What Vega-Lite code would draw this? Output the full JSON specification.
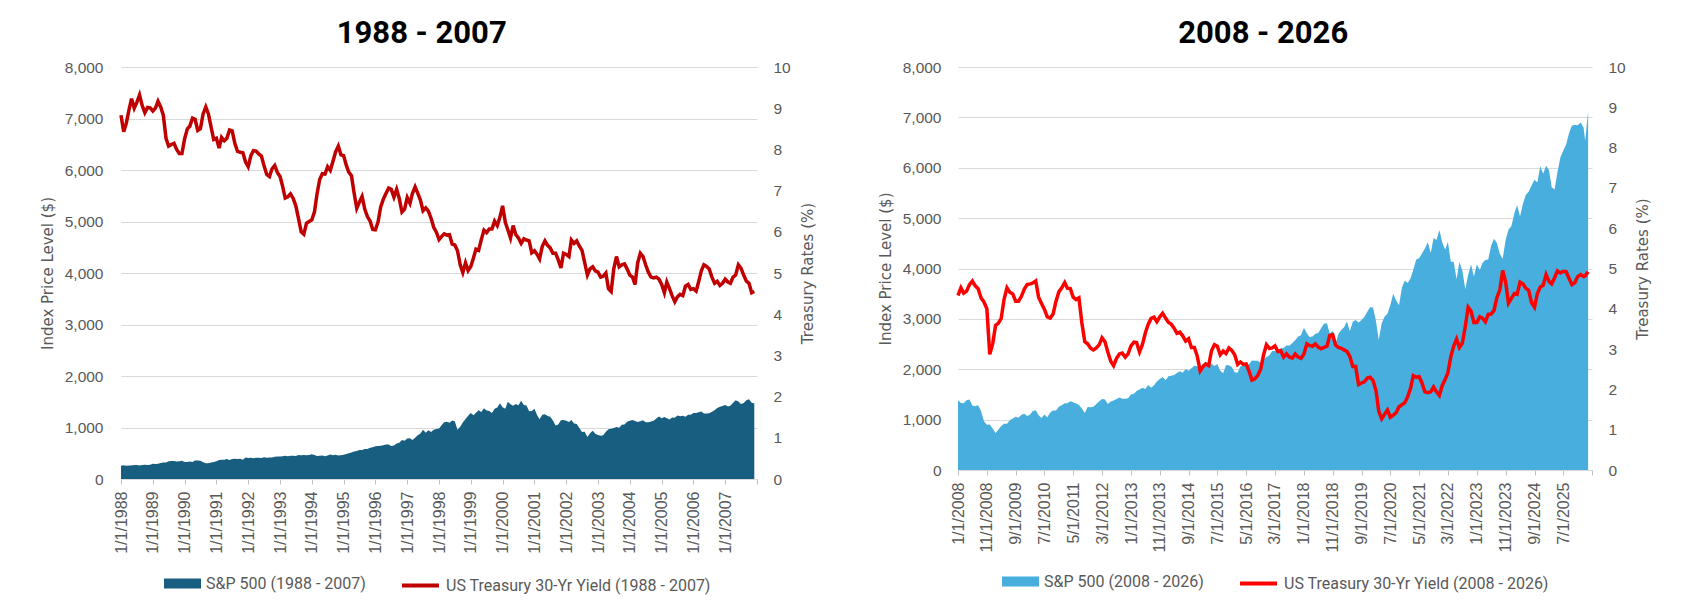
{
"$schema": "https://vega.github.io/schema/vega-lite/v6.json",
"background": "white",
"padding": {"left": 40, "top": 18, "right": 5, "bottom": 5},
"spacing": 62,
"datasets": {
"a": [
{"d":"1988-01-01","s":257,"y":8.83},{"d":"1988-02-01","s":268,"y":8.43},{"d":"1988-03-01","s":259,"y":8.63},{"d":"1988-04-01","s":261,"y":8.95},{"d":"1988-05-01","s":262,"y":9.23},{"d":"1988-06-01","s":274,"y":9.0},{"d":"1988-07-01","s":272,"y":9.14},{"d":"1988-08-01","s":262,"y":9.32},{"d":"1988-09-01","s":272,"y":9.06},{"d":"1988-10-01","s":279,"y":8.89},{"d":"1988-11-01","s":274,"y":9.02},{"d":"1988-12-01","s":278,"y":9.01},
{"d":"1989-01-01","s":297,"y":8.93},{"d":"1989-02-01","s":289,"y":9.01},{"d":"1989-03-01","s":295,"y":9.17},{"d":"1989-04-01","s":310,"y":9.03},{"d":"1989-05-01","s":321,"y":8.83},{"d":"1989-06-01","s":318,"y":8.27},{"d":"1989-07-01","s":346,"y":8.08},{"d":"1989-08-01","s":351,"y":8.12},{"d":"1989-09-01","s":349,"y":8.15},{"d":"1989-10-01","s":340,"y":8.0},{"d":"1989-11-01","s":346,"y":7.9},{"d":"1989-12-01","s":353,"y":7.9},
{"d":"1990-01-01","s":329,"y":8.26},{"d":"1990-02-01","s":332,"y":8.5},{"d":"1990-03-01","s":340,"y":8.56},{"d":"1990-04-01","s":331,"y":8.76},{"d":"1990-05-01","s":361,"y":8.73},{"d":"1990-06-01","s":358,"y":8.46},{"d":"1990-07-01","s":356,"y":8.5},{"d":"1990-08-01","s":323,"y":8.86},{"d":"1990-09-01","s":306,"y":9.03},{"d":"1990-10-01","s":304,"y":8.86},{"d":"1990-11-01","s":322,"y":8.54},{"d":"1990-12-01","s":330,"y":8.24},
{"d":"1991-01-01","s":344,"y":8.27},{"d":"1991-02-01","s":367,"y":8.03},{"d":"1991-03-01","s":375,"y":8.29},{"d":"1991-04-01","s":375,"y":8.21},{"d":"1991-05-01","s":390,"y":8.27},{"d":"1991-06-01","s":371,"y":8.47},{"d":"1991-07-01","s":388,"y":8.45},{"d":"1991-08-01","s":395,"y":8.14},{"d":"1991-09-01","s":388,"y":7.95},{"d":"1991-10-01","s":392,"y":7.93},{"d":"1991-11-01","s":375,"y":7.92},{"d":"1991-12-01","s":417,"y":7.7},
{"d":"1992-01-01","s":409,"y":7.58},{"d":"1992-02-01","s":413,"y":7.85},{"d":"1992-03-01","s":404,"y":7.97},{"d":"1992-04-01","s":415,"y":7.96},{"d":"1992-05-01","s":415,"y":7.89},{"d":"1992-06-01","s":408,"y":7.84},{"d":"1992-07-01","s":424,"y":7.6},{"d":"1992-08-01","s":414,"y":7.39},{"d":"1992-09-01","s":418,"y":7.34},{"d":"1992-10-01","s":419,"y":7.53},{"d":"1992-11-01","s":431,"y":7.61},{"d":"1992-12-01","s":436,"y":7.44},
{"d":"1993-01-01","s":439,"y":7.34},{"d":"1993-02-01","s":443,"y":7.09},{"d":"1993-03-01","s":452,"y":6.82},{"d":"1993-04-01","s":440,"y":6.85},{"d":"1993-05-01","s":450,"y":6.92},{"d":"1993-06-01","s":451,"y":6.81},{"d":"1993-07-01","s":448,"y":6.63},{"d":"1993-08-01","s":464,"y":6.32},{"d":"1993-09-01","s":459,"y":6.0},{"d":"1993-10-01","s":468,"y":5.94},{"d":"1993-11-01","s":462,"y":6.21},{"d":"1993-12-01","s":466,"y":6.25},
{"d":"1994-01-01","s":482,"y":6.29},{"d":"1994-02-01","s":467,"y":6.49},{"d":"1994-03-01","s":446,"y":6.91},{"d":"1994-04-01","s":451,"y":7.27},{"d":"1994-05-01","s":457,"y":7.41},{"d":"1994-06-01","s":444,"y":7.4},{"d":"1994-07-01","s":458,"y":7.58},{"d":"1994-08-01","s":475,"y":7.49},{"d":"1994-09-01","s":463,"y":7.71},{"d":"1994-10-01","s":472,"y":7.94},{"d":"1994-11-01","s":454,"y":8.08},{"d":"1994-12-01","s":459,"y":7.87},
{"d":"1995-01-01","s":470,"y":7.85},{"d":"1995-02-01","s":487,"y":7.61},{"d":"1995-03-01","s":501,"y":7.45},{"d":"1995-04-01","s":515,"y":7.36},{"d":"1995-05-01","s":533,"y":6.95},{"d":"1995-06-01","s":544,"y":6.57},{"d":"1995-07-01","s":562,"y":6.72},{"d":"1995-08-01","s":562,"y":6.86},{"d":"1995-09-01","s":584,"y":6.55},{"d":"1995-10-01","s":582,"y":6.37},{"d":"1995-11-01","s":605,"y":6.26},{"d":"1995-12-01","s":616,"y":6.06},
{"d":"1996-01-01","s":636,"y":6.05},{"d":"1996-02-01","s":640,"y":6.24},{"d":"1996-03-01","s":646,"y":6.6},{"d":"1996-04-01","s":654,"y":6.79},{"d":"1996-05-01","s":669,"y":6.93},{"d":"1996-06-01","s":671,"y":7.06},{"d":"1996-07-01","s":640,"y":7.03},{"d":"1996-08-01","s":652,"y":6.84},{"d":"1996-09-01","s":687,"y":7.03},{"d":"1996-10-01","s":705,"y":6.81},{"d":"1996-11-01","s":757,"y":6.48},{"d":"1996-12-01","s":741,"y":6.55},
{"d":"1997-01-01","s":786,"y":6.83},{"d":"1997-02-01","s":791,"y":6.69},{"d":"1997-03-01","s":757,"y":6.93},{"d":"1997-04-01","s":801,"y":7.09},{"d":"1997-05-01","s":848,"y":6.94},{"d":"1997-06-01","s":885,"y":6.77},{"d":"1997-07-01","s":954,"y":6.51},{"d":"1997-08-01","s":899,"y":6.58},{"d":"1997-09-01","s":947,"y":6.5},{"d":"1997-10-01","s":915,"y":6.33},{"d":"1997-11-01","s":955,"y":6.11},{"d":"1997-12-01","s":970,"y":5.99},
{"d":"1998-01-01","s":980,"y":5.81},{"d":"1998-02-01","s":1049,"y":5.89},{"d":"1998-03-01","s":1102,"y":5.95},{"d":"1998-04-01","s":1112,"y":5.92},{"d":"1998-05-01","s":1091,"y":5.93},{"d":"1998-06-01","s":1134,"y":5.7},{"d":"1998-07-01","s":1121,"y":5.68},{"d":"1998-08-01","s":957,"y":5.54},{"d":"1998-09-01","s":1017,"y":5.2},{"d":"1998-10-01","s":1099,"y":5.01},{"d":"1998-11-01","s":1164,"y":5.25},{"d":"1998-12-01","s":1229,"y":5.06},
{"d":"1999-01-01","s":1280,"y":5.16},{"d":"1999-02-01","s":1238,"y":5.37},{"d":"1999-03-01","s":1286,"y":5.58},{"d":"1999-04-01","s":1335,"y":5.55},{"d":"1999-05-01","s":1302,"y":5.81},{"d":"1999-06-01","s":1373,"y":6.04},{"d":"1999-07-01","s":1329,"y":5.98},{"d":"1999-08-01","s":1320,"y":6.07},{"d":"1999-09-01","s":1283,"y":6.07},{"d":"1999-10-01","s":1363,"y":6.26},{"d":"1999-11-01","s":1389,"y":6.15},{"d":"1999-12-01","s":1469,"y":6.35},
{"d":"2000-01-01","s":1394,"y":6.63},{"d":"2000-02-01","s":1366,"y":6.23},{"d":"2000-03-01","s":1499,"y":6.05},{"d":"2000-04-01","s":1452,"y":5.85},{"d":"2000-05-01","s":1421,"y":6.15},{"d":"2000-06-01","s":1455,"y":5.93},{"d":"2000-07-01","s":1431,"y":5.85},{"d":"2000-08-01","s":1518,"y":5.72},{"d":"2000-09-01","s":1437,"y":5.83},{"d":"2000-10-01","s":1429,"y":5.8},{"d":"2000-11-01","s":1315,"y":5.78},{"d":"2000-12-01","s":1320,"y":5.49},
{"d":"2001-01-01","s":1366,"y":5.54},{"d":"2001-02-01","s":1240,"y":5.45},{"d":"2001-03-01","s":1160,"y":5.34},{"d":"2001-04-01","s":1249,"y":5.65},{"d":"2001-05-01","s":1256,"y":5.78},{"d":"2001-06-01","s":1224,"y":5.67},{"d":"2001-07-01","s":1211,"y":5.61},{"d":"2001-08-01","s":1134,"y":5.48},{"d":"2001-09-01","s":1041,"y":5.48},{"d":"2001-10-01","s":1060,"y":5.32},{"d":"2001-11-01","s":1139,"y":5.12},{"d":"2001-12-01","s":1148,"y":5.48},
{"d":"2002-01-01","s":1130,"y":5.45},{"d":"2002-02-01","s":1107,"y":5.4},{"d":"2002-03-01","s":1147,"y":5.8},{"d":"2002-04-01","s":1077,"y":5.72},{"d":"2002-05-01","s":1067,"y":5.78},{"d":"2002-06-01","s":990,"y":5.65},{"d":"2002-07-01","s":912,"y":5.55},{"d":"2002-08-01","s":916,"y":5.25},{"d":"2002-09-01","s":815,"y":4.95},{"d":"2002-10-01","s":886,"y":5.1},{"d":"2002-11-01","s":936,"y":5.15},{"d":"2002-12-01","s":880,"y":5.05},
{"d":"2003-01-01","s":856,"y":5.02},{"d":"2003-02-01","s":841,"y":4.9},{"d":"2003-03-01","s":848,"y":4.92},{"d":"2003-04-01","s":917,"y":5.0},{"d":"2003-05-01","s":964,"y":4.62},{"d":"2003-06-01","s":975,"y":4.55},{"d":"2003-07-01","s":990,"y":5.1},{"d":"2003-08-01","s":1008,"y":5.4},{"d":"2003-09-01","s":996,"y":5.15},{"d":"2003-10-01","s":1051,"y":5.2},{"d":"2003-11-01","s":1058,"y":5.22},{"d":"2003-12-01","s":1112,"y":5.1},
{"d":"2004-01-01","s":1131,"y":4.95},{"d":"2004-02-01","s":1145,"y":4.9},{"d":"2004-03-01","s":1126,"y":4.72},{"d":"2004-04-01","s":1107,"y":5.25},{"d":"2004-05-01","s":1121,"y":5.48},{"d":"2004-06-01","s":1141,"y":5.4},{"d":"2004-07-01","s":1102,"y":5.2},{"d":"2004-08-01","s":1104,"y":5.02},{"d":"2004-09-01","s":1115,"y":4.9},{"d":"2004-10-01","s":1130,"y":4.88},{"d":"2004-11-01","s":1174,"y":4.9},{"d":"2004-12-01","s":1212,"y":4.85},
{"d":"2005-01-01","s":1181,"y":4.72},{"d":"2005-02-01","s":1204,"y":4.52},{"d":"2005-03-01","s":1181,"y":4.78},{"d":"2005-04-01","s":1157,"y":4.62},{"d":"2005-05-01","s":1192,"y":4.45},{"d":"2005-06-01","s":1191,"y":4.3},{"d":"2005-07-01","s":1234,"y":4.42},{"d":"2005-08-01","s":1220,"y":4.48},{"d":"2005-09-01","s":1229,"y":4.45},{"d":"2005-10-01","s":1207,"y":4.68},{"d":"2005-11-01","s":1249,"y":4.72},{"d":"2005-12-01","s":1248,"y":4.6},
{"d":"2006-01-01","s":1280,"y":4.62},{"d":"2006-02-01","s":1281,"y":4.56},{"d":"2006-03-01","s":1295,"y":4.78},{"d":"2006-04-01","s":1311,"y":5.05},{"d":"2006-05-01","s":1270,"y":5.2},{"d":"2006-06-01","s":1270,"y":5.16},{"d":"2006-07-01","s":1277,"y":5.1},{"d":"2006-08-01","s":1304,"y":4.9},{"d":"2006-09-01","s":1336,"y":4.75},{"d":"2006-10-01","s":1378,"y":4.8},{"d":"2006-11-01","s":1401,"y":4.7},{"d":"2006-12-01","s":1418,"y":4.75},
{"d":"2007-01-01","s":1438,"y":4.85},{"d":"2007-02-01","s":1407,"y":4.78},{"d":"2007-03-01","s":1421,"y":4.75},{"d":"2007-04-01","s":1482,"y":4.9},{"d":"2007-05-01","s":1531,"y":4.95},{"d":"2007-06-01","s":1503,"y":5.2},{"d":"2007-07-01","s":1455,"y":5.12},{"d":"2007-08-01","s":1474,"y":4.95},{"d":"2007-09-01","s":1527,"y":4.8},{"d":"2007-10-01","s":1549,"y":4.75},{"d":"2007-11-01","s":1481,"y":4.52},{"d":"2007-12-01","s":1468,"y":4.55}
],
"b": [
{"d":"2008-01-01","s":1379,"y":4.33},{"d":"2008-02-01","s":1331,"y":4.52},{"d":"2008-03-01","s":1323,"y":4.39},{"d":"2008-04-01","s":1386,"y":4.44},{"d":"2008-05-01","s":1400,"y":4.6},{"d":"2008-06-01","s":1280,"y":4.69},{"d":"2008-07-01","s":1267,"y":4.57},{"d":"2008-08-01","s":1283,"y":4.5},{"d":"2008-09-01","s":1165,"y":4.27},{"d":"2008-10-01","s":969,"y":4.17},{"d":"2008-11-01","s":896,"y":4.0},{"d":"2008-12-01","s":903,"y":2.87},
{"d":"2009-01-01","s":826,"y":3.13},{"d":"2009-02-01","s":735,"y":3.59},{"d":"2009-03-01","s":798,"y":3.64},{"d":"2009-04-01","s":873,"y":3.76},{"d":"2009-05-01","s":919,"y":4.23},{"d":"2009-06-01","s":919,"y":4.52},{"d":"2009-07-01","s":987,"y":4.41},{"d":"2009-08-01","s":1021,"y":4.37},{"d":"2009-09-01","s":1057,"y":4.19},{"d":"2009-10-01","s":1036,"y":4.19},{"d":"2009-11-01","s":1096,"y":4.31},{"d":"2009-12-01","s":1115,"y":4.49},
{"d":"2010-01-01","s":1074,"y":4.6},{"d":"2010-02-01","s":1104,"y":4.62},{"d":"2010-03-01","s":1169,"y":4.64},{"d":"2010-04-01","s":1187,"y":4.69},{"d":"2010-05-01","s":1089,"y":4.29},{"d":"2010-06-01","s":1031,"y":4.13},{"d":"2010-07-01","s":1102,"y":3.99},{"d":"2010-08-01","s":1049,"y":3.8},{"d":"2010-09-01","s":1141,"y":3.77},{"d":"2010-10-01","s":1183,"y":3.87},{"d":"2010-11-01","s":1181,"y":4.19},{"d":"2010-12-01","s":1258,"y":4.42},
{"d":"2011-01-01","s":1286,"y":4.52},{"d":"2011-02-01","s":1327,"y":4.65},{"d":"2011-03-01","s":1326,"y":4.51},{"d":"2011-04-01","s":1364,"y":4.5},{"d":"2011-05-01","s":1345,"y":4.29},{"d":"2011-06-01","s":1321,"y":4.23},{"d":"2011-07-01","s":1292,"y":4.27},{"d":"2011-08-01","s":1219,"y":3.65},{"d":"2011-09-01","s":1131,"y":3.18},{"d":"2011-10-01","s":1253,"y":3.13},{"d":"2011-11-01","s":1247,"y":3.02},{"d":"2011-12-01","s":1258,"y":2.98},
{"d":"2012-01-01","s":1312,"y":3.03},{"d":"2012-02-01","s":1366,"y":3.11},{"d":"2012-03-01","s":1408,"y":3.28},{"d":"2012-04-01","s":1398,"y":3.18},{"d":"2012-05-01","s":1310,"y":2.93},{"d":"2012-06-01","s":1362,"y":2.7},{"d":"2012-07-01","s":1379,"y":2.59},{"d":"2012-08-01","s":1407,"y":2.77},{"d":"2012-09-01","s":1441,"y":2.88},{"d":"2012-10-01","s":1412,"y":2.9},{"d":"2012-11-01","s":1416,"y":2.8},{"d":"2012-12-01","s":1426,"y":2.88},
{"d":"2013-01-01","s":1498,"y":3.08},{"d":"2013-02-01","s":1515,"y":3.17},{"d":"2013-03-01","s":1569,"y":3.16},{"d":"2013-04-01","s":1598,"y":2.93},{"d":"2013-05-01","s":1631,"y":3.11},{"d":"2013-06-01","s":1606,"y":3.4},{"d":"2013-07-01","s":1686,"y":3.61},{"d":"2013-08-01","s":1633,"y":3.76},{"d":"2013-09-01","s":1682,"y":3.79},{"d":"2013-10-01","s":1757,"y":3.68},{"d":"2013-11-01","s":1806,"y":3.8},{"d":"2013-12-01","s":1848,"y":3.89},
{"d":"2014-01-01","s":1783,"y":3.77},{"d":"2014-02-01","s":1859,"y":3.66},{"d":"2014-03-01","s":1872,"y":3.62},{"d":"2014-04-01","s":1884,"y":3.52},{"d":"2014-05-01","s":1924,"y":3.39},{"d":"2014-06-01","s":1960,"y":3.42},{"d":"2014-07-01","s":1931,"y":3.33},{"d":"2014-08-01","s":2003,"y":3.2},{"d":"2014-09-01","s":1972,"y":3.26},{"d":"2014-10-01","s":2018,"y":3.04},{"d":"2014-11-01","s":2068,"y":3.04},{"d":"2014-12-01","s":2059,"y":2.83},
{"d":"2015-01-01","s":1995,"y":2.46},{"d":"2015-02-01","s":2105,"y":2.57},{"d":"2015-03-01","s":2068,"y":2.63},{"d":"2015-04-01","s":2086,"y":2.59},{"d":"2015-05-01","s":2107,"y":2.96},{"d":"2015-06-01","s":2063,"y":3.11},{"d":"2015-07-01","s":2104,"y":3.07},{"d":"2015-08-01","s":1972,"y":2.86},{"d":"2015-09-01","s":1920,"y":2.95},{"d":"2015-10-01","s":2079,"y":2.89},{"d":"2015-11-01","s":2080,"y":3.03},{"d":"2015-12-01","s":2044,"y":2.97},
{"d":"2016-01-01","s":1940,"y":2.86},{"d":"2016-02-01","s":1932,"y":2.62},{"d":"2016-03-01","s":2060,"y":2.68},{"d":"2016-04-01","s":2065,"y":2.62},{"d":"2016-05-01","s":2097,"y":2.63},{"d":"2016-06-01","s":2099,"y":2.45},{"d":"2016-07-01","s":2174,"y":2.23},{"d":"2016-08-01","s":2171,"y":2.26},{"d":"2016-09-01","s":2168,"y":2.35},{"d":"2016-10-01","s":2126,"y":2.5},{"d":"2016-11-01","s":2199,"y":2.86},{"d":"2016-12-01","s":2239,"y":3.11},
{"d":"2017-01-01","s":2279,"y":3.02},{"d":"2017-02-01","s":2364,"y":3.03},{"d":"2017-03-01","s":2363,"y":3.08},{"d":"2017-04-01","s":2384,"y":2.94},{"d":"2017-05-01","s":2412,"y":2.96},{"d":"2017-06-01","s":2423,"y":2.8},{"d":"2017-07-01","s":2470,"y":2.88},{"d":"2017-08-01","s":2472,"y":2.8},{"d":"2017-09-01","s":2519,"y":2.78},{"d":"2017-10-01","s":2575,"y":2.88},{"d":"2017-11-01","s":2648,"y":2.8},{"d":"2017-12-01","s":2674,"y":2.77},
{"d":"2018-01-01","s":2824,"y":2.88},{"d":"2018-02-01","s":2714,"y":3.13},{"d":"2018-03-01","s":2641,"y":3.09},{"d":"2018-04-01","s":2648,"y":3.07},{"d":"2018-05-01","s":2705,"y":3.13},{"d":"2018-06-01","s":2718,"y":3.05},{"d":"2018-07-01","s":2816,"y":3.01},{"d":"2018-08-01","s":2902,"y":3.04},{"d":"2018-09-01","s":2914,"y":3.07},{"d":"2018-10-01","s":2712,"y":3.34},{"d":"2018-11-01","s":2760,"y":3.36},{"d":"2018-12-01","s":2507,"y":3.1},
{"d":"2019-01-01","s":2704,"y":3.04},{"d":"2019-02-01","s":2784,"y":3.02},{"d":"2019-03-01","s":2834,"y":2.98},{"d":"2019-04-01","s":2946,"y":2.94},{"d":"2019-05-01","s":2752,"y":2.82},{"d":"2019-06-01","s":2942,"y":2.57},{"d":"2019-07-01","s":2980,"y":2.57},{"d":"2019-08-01","s":2926,"y":2.12},{"d":"2019-09-01","s":2977,"y":2.16},{"d":"2019-10-01","s":3038,"y":2.19},{"d":"2019-11-01","s":3141,"y":2.28},{"d":"2019-12-01","s":3231,"y":2.3},
{"d":"2020-01-01","s":3226,"y":2.22},{"d":"2020-02-01","s":2954,"y":1.97},{"d":"2020-03-01","s":2585,"y":1.46},{"d":"2020-04-01","s":2912,"y":1.27},{"d":"2020-05-01","s":3044,"y":1.38},{"d":"2020-06-01","s":3100,"y":1.49},{"d":"2020-07-01","s":3271,"y":1.31},{"d":"2020-08-01","s":3500,"y":1.36},{"d":"2020-09-01","s":3363,"y":1.42},{"d":"2020-10-01","s":3270,"y":1.57},{"d":"2020-11-01","s":3622,"y":1.62},{"d":"2020-12-01","s":3756,"y":1.67},
{"d":"2021-01-01","s":3714,"y":1.82},{"d":"2021-02-01","s":3811,"y":2.04},{"d":"2021-03-01","s":3973,"y":2.34},{"d":"2021-04-01","s":4181,"y":2.3},{"d":"2021-05-01","s":4204,"y":2.32},{"d":"2021-06-01","s":4298,"y":2.16},{"d":"2021-07-01","s":4395,"y":1.94},{"d":"2021-08-01","s":4523,"y":1.92},{"d":"2021-09-01","s":4308,"y":1.94},{"d":"2021-10-01","s":4605,"y":2.06},{"d":"2021-11-01","s":4567,"y":1.94},{"d":"2021-12-01","s":4766,"y":1.85},
{"d":"2022-01-01","s":4516,"y":2.1},{"d":"2022-02-01","s":4374,"y":2.25},{"d":"2022-03-01","s":4530,"y":2.41},{"d":"2022-04-01","s":4132,"y":2.81},{"d":"2022-05-01","s":4132,"y":3.07},{"d":"2022-06-01","s":3785,"y":3.25},{"d":"2022-07-01","s":4130,"y":3.04},{"d":"2022-08-01","s":3955,"y":3.15},{"d":"2022-09-01","s":3586,"y":3.56},{"d":"2022-10-01","s":3872,"y":4.04},{"d":"2022-11-01","s":4080,"y":3.94},{"d":"2022-12-01","s":3840,"y":3.66},
{"d":"2023-01-01","s":4077,"y":3.66},{"d":"2023-02-01","s":3970,"y":3.8},{"d":"2023-03-01","s":4109,"y":3.77},{"d":"2023-04-01","s":4169,"y":3.68},{"d":"2023-05-01","s":4180,"y":3.86},{"d":"2023-06-01","s":4450,"y":3.87},{"d":"2023-07-01","s":4589,"y":3.96},{"d":"2023-08-01","s":4508,"y":4.28},{"d":"2023-09-01","s":4288,"y":4.47},{"d":"2023-10-01","s":4194,"y":4.95},{"d":"2023-11-01","s":4568,"y":4.66},{"d":"2023-12-01","s":4770,"y":4.14},
{"d":"2024-01-01","s":4846,"y":4.26},{"d":"2024-02-01","s":5096,"y":4.38},{"d":"2024-03-01","s":5254,"y":4.36},{"d":"2024-04-01","s":5036,"y":4.66},{"d":"2024-05-01","s":5278,"y":4.62},{"d":"2024-06-01","s":5460,"y":4.51},{"d":"2024-07-01","s":5522,"y":4.46},{"d":"2024-08-01","s":5648,"y":4.15},{"d":"2024-09-01","s":5762,"y":4.04},{"d":"2024-10-01","s":5705,"y":4.38},{"d":"2024-11-01","s":6032,"y":4.54},{"d":"2024-12-01","s":5882,"y":4.58},
{"d":"2025-01-01","s":6041,"y":4.85},{"d":"2025-02-01","s":5955,"y":4.68},{"d":"2025-03-01","s":5612,"y":4.62},{"d":"2025-04-01","s":5569,"y":4.77},{"d":"2025-05-01","s":5912,"y":4.94},{"d":"2025-06-01","s":6205,"y":4.89},{"d":"2025-07-01","s":6339,"y":4.93},{"d":"2025-08-01","s":6460,"y":4.92},{"d":"2025-09-01","s":6688,"y":4.75},{"d":"2025-10-01","s":6840,"y":4.6},{"d":"2025-11-01","s":6849,"y":4.65},{"d":"2025-12-01","s":6845,"y":4.8},
{"d":"2026-01-01","s":6900,"y":4.85},{"d":"2026-02-01","s":6800,"y":4.8},{"d":"2026-02-18","s":6530,"y":4.82},{"d":"2026-03-21","s":7120,"y":4.92}
]
},
"hconcat": [
{
"width": 636, "height": 412,
"title": {"text": "1988 - 2007", "dx": -6},
"data": {"name": "a"},
"encoding": {
"x": {"field": "d", "type": "temporal",
"scale": {"type": "utc", "domain": [{"year": 1988, "month": 1, "date": 1, "utc": true}, {"year": 2008, "month": 1, "date": 1, "utc": true}]},
"axis": {"title": null, "format": "%-m/%-d/%Y", "labelOverlap": false, "labelFlush": false, "labelBound": false,
"values": [{"year":1988,"month":1,"date":1,"utc":true},{"year":1989,"month":1,"date":1,"utc":true},{"year":1990,"month":1,"date":1,"utc":true},{"year":1991,"month":1,"date":1,"utc":true},{"year":1992,"month":1,"date":1,"utc":true},{"year":1993,"month":1,"date":1,"utc":true},{"year":1994,"month":1,"date":1,"utc":true},{"year":1995,"month":1,"date":1,"utc":true},{"year":1996,"month":1,"date":1,"utc":true},{"year":1997,"month":1,"date":1,"utc":true},{"year":1998,"month":1,"date":1,"utc":true},{"year":1999,"month":1,"date":1,"utc":true},{"year":2000,"month":1,"date":1,"utc":true},{"year":2001,"month":1,"date":1,"utc":true},{"year":2002,"month":1,"date":1,"utc":true},{"year":2003,"month":1,"date":1,"utc":true},{"year":2004,"month":1,"date":1,"utc":true},{"year":2005,"month":1,"date":1,"utc":true},{"year":2006,"month":1,"date":1,"utc":true},{"year":2007,"month":1,"date":1,"utc":true},{"year":2008,"month":1,"date":1,"utc":true}],
"labelExpr": "datum.value >= 1199145600000 ? '' : datum.label"}}
},
"layer": [
{"mark": {"type": "area"},
"encoding": {
"y": {"field": "s", "type": "quantitative", "scale": {"domain": [0, 8000]},
"axis": {"title": "Index Price Level ($)", "orient": "left", "values": [0,1000,2000,3000,4000,5000,6000,7000,8000], "format": ",.0f", "grid": true, "labelPadding": 18, "titlePadding": 9}},
"color": {"datum": "S&P 500 (1988 - 2007)", "type": "nominal", "scale": {"range": ["#175E81"]},
"legend": {"symbolType": "M-1,-0.27H1V0.27H-1Z", "symbolSize": 1369, "symbolStrokeWidth": 0}}
}},
{"mark": {"type": "line", "strokeWidth": 3.5},
"encoding": {
"y": {"field": "y", "type": "quantitative", "scale": {"domain": [0, 10]},
"axis": {"title": "Treasury Rates (%)", "orient": "right", "titleAngle": 270, "values": [0,1,2,3,4,5,6,7,8,9,10], "grid": false, "labelPadding": 16, "titlePadding": 25}},
"color": {"datum": "US Treasury 30-Yr Yield  (1988 - 2007)", "type": "nominal", "scale": {"range": ["#C00000"]},
"legend": {"symbolType": "stroke", "symbolSize": 1369, "symbolStrokeWidth": 4}}
}}
],
"resolve": {"scale": {"y": "independent", "color": "independent"}}
},
{
"width": 634, "height": 403,
"title": {"text": "2008 - 2026", "dx": -1},
"data": {"name": "b"},
"encoding": {
"x": {"field": "d", "type": "temporal",
"scale": {"type": "utc", "domain": [{"year": 2008, "month": 1, "date": 1, "utc": true}, {"year": 2026, "month": 5, "date": 1, "utc": true}]},
"axis": {"title": null, "format": "%-m/%-d/%Y", "labelOverlap": false, "labelFlush": false, "labelBound": false,
"values": [{"year":2008,"month":1,"date":1,"utc":true},{"year":2008,"month":11,"date":1,"utc":true},{"year":2009,"month":9,"date":1,"utc":true},{"year":2010,"month":7,"date":1,"utc":true},{"year":2011,"month":5,"date":1,"utc":true},{"year":2012,"month":3,"date":1,"utc":true},{"year":2013,"month":1,"date":1,"utc":true},{"year":2013,"month":11,"date":1,"utc":true},{"year":2014,"month":9,"date":1,"utc":true},{"year":2015,"month":7,"date":1,"utc":true},{"year":2016,"month":5,"date":1,"utc":true},{"year":2017,"month":3,"date":1,"utc":true},{"year":2018,"month":1,"date":1,"utc":true},{"year":2018,"month":11,"date":1,"utc":true},{"year":2019,"month":9,"date":1,"utc":true},{"year":2020,"month":7,"date":1,"utc":true},{"year":2021,"month":5,"date":1,"utc":true},{"year":2022,"month":3,"date":1,"utc":true},{"year":2023,"month":1,"date":1,"utc":true},{"year":2023,"month":11,"date":1,"utc":true},{"year":2024,"month":9,"date":1,"utc":true},{"year":2025,"month":7,"date":1,"utc":true},{"year":2026,"month":5,"date":1,"utc":true}],
"labelExpr": "datum.value >= 1767225600000 ? '' : datum.label"}}
},
"layer": [
{"mark": {"type": "area"},
"encoding": {
"y": {"field": "s", "type": "quantitative", "scale": {"domain": [0, 8000]},
"axis": {"title": "Index Price Level ($)", "orient": "left", "values": [0,1000,2000,3000,4000,5000,6000,7000,8000], "format": ",.0f", "grid": true, "labelPadding": 17, "titlePadding": 9}},
"color": {"datum": "S&P 500 (2008 - 2026)", "type": "nominal", "scale": {"range": ["#47AEDD"]},
"legend": {"symbolType": "M-1,-0.27H1V0.27H-1Z", "symbolSize": 1369, "symbolStrokeWidth": 0}}
}},
{"mark": {"type": "line", "strokeWidth": 3.5},
"encoding": {
"y": {"field": "y", "type": "quantitative", "scale": {"domain": [0, 10]},
"axis": {"title": "Treasury Rates (%)", "orient": "right", "titleAngle": 270, "values": [0,1,2,3,4,5,6,7,8,9,10], "grid": false, "labelPadding": 16, "titlePadding": 25}},
"color": {"datum": "US Treasury 30-Yr Yield (2008 - 2026)", "type": "nominal", "scale": {"range": ["#FF0000"]},
"legend": {"symbolType": "stroke", "symbolSize": 1369, "symbolStrokeWidth": 4}}
}}
],
"resolve": {"scale": {"y": "independent", "color": "independent"}}
}
],
"resolve": {"scale": {"x": "independent", "y": "independent", "color": "independent"}},
"config": {
"font": "Liberation Sans",
"view": {"stroke": null},
"axis": {"labelFont": "Liberation Sans", "labelColor": "#595959", "labelFontSize": 15.5, "titleFont": "DejaVu Sans", "titleFontSize": 15, "titleFontWeight": "normal", "titleColor": "#595959", "gridColor": "#D9D9D9", "gridWidth": 1, "domain": false, "ticks": false},
"axisX": {"domain": true, "domainColor": "#D9D9D9", "ticks": true, "tickColor": "#BFBFBF", "tickSize": 5, "labelAngle": -90, "labelFontSize": 16, "labelPadding": 7, "grid": false, "labelOverlap": false},
"legend": {"orient": "bottom", "direction": "horizontal", "title": null, "labelFont": "Roboto", "labelFontSize": 16, "labelColor": "#595959", "labelLimit": 600, "labelOffset": 5, "offset": 11, "layout": {"bottom": {"anchor": "middle", "direction": "horizontal", "margin": 34}}},
"title": {"font": "Roboto", "fontSize": 31, "fontWeight": "bold", "color": "#000000", "anchor": "middle", "frame": "bounds", "offset": 10}
}
}
